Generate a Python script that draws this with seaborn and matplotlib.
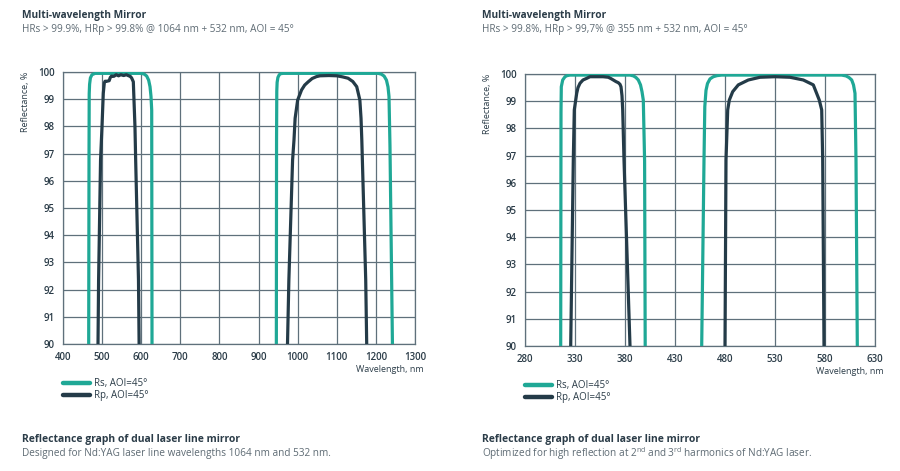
import numpy as np
import pandas as pd
import seaborn as sns
import matplotlib
matplotlib.use("Agg")
import matplotlib.pyplot as plt
from matplotlib.lines import Line2D

# ---------------- data ----------------
SERIES = ["Rs, AOI=45°", "Rp, AOI=45°"]

# Left chart: 1064 nm + 532 nm
L_RS_532_WL = [465.5, 465.7, 466.5, 467.0, 468.0, 470.0, 474.0, 482.0, 601.0, 608.0, 614.0, 619.0, 622.5, 625.0, 626.8, 627.6, 627.7]
L_RS_532_R = [89.5, 90.0, 96.8, 99.2, 99.55, 99.78, 99.9, 99.95, 99.95, 99.92, 99.85, 99.7, 99.46, 99.1, 98.6, 90.0, 89.5]
L_RP_532_WL = [489.2, 489.5, 491.0, 496.0, 499.7, 503.0, 505.6, 507.5, 512.0, 518.0, 521.0, 524.0, 530.0, 536.0, 542.0, 548.0, 555.0, 562.0, 568.0, 572.0, 575.5, 578.0, 579.8, 581.5, 584.0, 585.8, 593.0, 594.6, 594.9]
L_RP_532_R = [89.5, 90.0, 92.35, 96.76, 97.99, 99.22, 99.6, 99.66, 99.66, 99.68, 99.8, 99.85, 99.84, 99.9, 99.86, 99.9, 99.87, 99.9, 99.86, 99.84, 99.78, 99.7, 99.64, 98.97, 97.99, 96.76, 92.35, 90.0, 89.5]
L_RS_1064_WL = [945.3, 945.5, 946.0, 946.6, 947.5, 949.5, 953.0, 957.0, 963.0, 1206.0, 1214.0, 1221.0, 1227.0, 1231.0, 1233.5, 1236.0, 1242.3, 1242.5]
L_RS_1064_R = [89.5, 90.0, 97.5, 99.3, 99.62, 99.8, 99.9, 99.94, 99.95, 99.95, 99.92, 99.85, 99.7, 99.45, 99.1, 97.3, 90.0, 89.5]
L_RP_1064_WL = [972.8, 974.0, 977.5, 987.0, 990.6, 993.5, 1000.0, 1010.0, 1018.0, 1027.0, 1037.0, 1048.0, 1057.0, 1080.0, 1100.0, 1115.0, 1129.0, 1141.0, 1151.0, 1159.0, 1162.0, 1164.0, 1174.0, 1176.5, 1177.5]
L_RP_1064_R = [89.5, 90.0, 92.35, 96.76, 97.5, 98.3, 98.97, 99.34, 99.52, 99.64, 99.76, 99.83, 99.86, 99.87, 99.86, 99.82, 99.77, 99.65, 99.46, 98.97, 98.3, 97.5, 92.35, 90.0, 89.5]

# Right chart: 355 nm + 532 nm
R_RS_355_WL = [315.6, 315.7, 316.0, 316.3, 317.7, 320.0, 322.0, 325.0, 385.0, 388.5, 391.0, 393.3, 395.5, 397.0, 398.3, 399.6, 400.2, 400.3]
R_RS_355_R = [89.5, 90.0, 98.6, 99.53, 99.78, 99.9, 99.94, 99.96, 99.96, 99.93, 99.87, 99.78, 99.6, 99.35, 99.04, 96.8, 90.0, 89.5]
R_RP_355_WL = [325.5, 325.7, 328.3, 329.3, 331.7, 333.0, 335.0, 338.0, 341.7, 345.0, 352.0, 358.0, 363.3, 366.0, 368.3, 371.0, 373.3, 375.0, 376.0, 377.0, 377.7, 379.0, 385.0, 385.4]
R_RP_355_R = [89.5, 90.0, 96.84, 98.68, 99.29, 99.5, 99.66, 99.78, 99.84, 99.9, 99.9, 99.9, 99.88, 99.83, 99.78, 99.72, 99.68, 99.62, 99.53, 99.2, 98.68, 96.84, 90.0, 89.5]
R_RS_532_WL = [456.5, 456.7, 459.0, 459.8, 461.0, 462.5, 465.0, 468.3, 472.0, 476.7, 596.7, 601.0, 604.0, 606.7, 608.5, 610.0, 611.0, 612.3, 612.5]
R_RS_532_R = [89.5, 90.0, 96.84, 98.8, 99.4, 99.65, 99.82, 99.9, 99.94, 99.96, 99.96, 99.93, 99.87, 99.78, 99.6, 99.29, 96.84, 90.0, 89.5]
R_RP_532_WL = [479.8, 480.0, 481.0, 482.7, 484.3, 487.7, 493.3, 503.3, 515.0, 530.0, 545.0, 558.3, 568.3, 574.3, 576.7, 577.7, 579.0, 579.2]
R_RP_532_R = [89.5, 90.0, 96.84, 98.68, 99.04, 99.35, 99.6, 99.78, 99.88, 99.9, 99.88, 99.78, 99.6, 99.04, 98.68, 96.84, 90.0, 89.5]

L_XTICKS = [400, 500, 600, 700, 800, 900, 1000, 1100, 1200, 1300]
R_XTICKS = [280, 330, 380, 430, 480, 530, 580, 630]
YTICKS = [90, 91, 92, 93, 94, 95, 96, 97, 98, 99, 100]

TITLE = "Multi-wavelength Mirror"
L_SUB = "HRs > 99.9%, HRp > 99.8% @ 1064 nm + 532 nm, AOI = 45°"
R_SUB = "HRs > 99.8%, HRp > 99,7% @ 355 nm + 532 nm, AOI = 45°"
CAP = "Reflectance graph of dual laser line mirror"
L_CAP = "Designed for Nd:YAG laser line wavelengths 1064 nm and 532 nm."
R_CAP = r"Optimized for high reflection at 2$^{\mathregular{nd}}$ and 3$^{\mathregular{rd}}$ harmonics of Nd:YAG laser."


def frame(bands):
    parts = []
    for i, (series, wl, r) in enumerate(bands):
        parts.append(pd.DataFrame({"wl": wl, "R": r, "series": series, "band": i}))
    return pd.concat(parts, ignore_index=True)


left_df = frame([
    (SERIES[0], L_RS_532_WL, L_RS_532_R),
    (SERIES[0], L_RS_1064_WL, L_RS_1064_R),
    (SERIES[1], L_RP_532_WL, L_RP_532_R),
    (SERIES[1], L_RP_1064_WL, L_RP_1064_R),
])
right_df = frame([
    (SERIES[0], R_RS_355_WL, R_RS_355_R),
    (SERIES[0], R_RS_532_WL, R_RS_532_R),
    (SERIES[1], R_RP_355_WL, R_RP_355_R),
    (SERIES[1], R_RP_532_WL, R_RP_532_R),
])

# ---------------- style ----------------
sns.set_theme(style="white")
plt.rcParams["font.family"] = ["Open Sans", "DejaVu Sans"]
plt.rcParams["mathtext.default"] = "regular"

TEAL = "#1fa896"
DARK = "#243b48"
GRID = "#5f707b"
TXT = "#2b3c48"
SUBTXT = "#5e6b74"
PAL = {SERIES[0]: TEAL, SERIES[1]: DARK}

fig = plt.figure(figsize=(9, 4.71), dpi=100)
fig.patch.set_facecolor("white")
axL = fig.add_axes([63 / 900, 1 - 344 / 471, 352 / 900, 272 / 471])
axR = fig.add_axes([525 / 900, 1 - 346 / 471, 350 / 900, 272 / 471])


def style_axes(ax, df, xticks):
    sns.lineplot(data=df, x="wl", y="R", hue="series", units="band",
                 estimator=None, sort=False, palette=PAL, hue_order=SERIES,
                 linewidth=2.3, legend=False, ax=ax, zorder=3)
    for ln in ax.get_lines():
        ln.set_solid_joinstyle("round")
        ln.set_solid_capstyle("butt")
    ax.set_xlim(xticks[0], xticks[-1])
    ax.set_ylim(90, 100)
    ax.set_xticks(xticks)
    ax.set_yticks(YTICKS)
    ax.set_xticklabels([str(t) for t in xticks])
    ax.set_yticklabels([str(t) for t in YTICKS])
    ax.grid(True, color=GRID, linewidth=0.9, zorder=1)
    ax.set_axisbelow(True)
    for s in ax.spines.values():
        s.set_visible(True)
        s.set_color(GRID)
        s.set_linewidth(0.9)
    ax.tick_params(axis="both", which="major", direction="out", length=3,
                   width=0.9, color=GRID, labelsize=7, labelcolor=TXT, pad=3)
    for lab in ax.get_xticklabels() + ax.get_yticklabels():
        lab.set_fontweight("semibold")
    ax.set_xlabel("Wavelength, nm", fontsize=6.5, color=TXT, loc="right")
    ax.xaxis.set_label_coords(1.024, -0.078)
    ax.set_ylabel("Reflectance, %", fontsize=6.5, color=TXT, loc="top")
    ax.yaxis.set_label_coords(-0.093, 1.0)
    ax.set_facecolor("white")


style_axes(axL, left_df, L_XTICKS)
style_axes(axR, right_df, R_XTICKS)

handles = [Line2D([], [], color=TEAL, lw=3.2), Line2D([], [], color=DARK, lw=3.2)]
for ax in (axL, axR):
    ax.legend(handles, SERIES, loc="upper left", bbox_to_anchor=(0.0, -0.125),
              frameon=False, fontsize=7, handlelength=2.8, handletextpad=0.35,
              labelspacing=0.15, borderaxespad=0.0, borderpad=0.0,
              labelcolor=TXT)

# titles and captions
for x0, sub, cap in ((22 / 900, L_SUB, L_CAP), (482 / 900, R_SUB, R_CAP)):
    fig.text(x0, 1 - 15.5 / 471, TITLE, fontsize=7.3, fontweight="bold", color=TXT, va="center", ha="left")
    fig.text(x0, 1 - 29.5 / 471, sub, fontsize=7.2, color=SUBTXT, va="center", ha="left")
    fig.text(x0, 1 - 439.5 / 471, CAP, fontsize=7.5, fontweight="bold", color=TXT, va="center", ha="left")
    fig.text(x0, 1 - 453.5 / 471, cap, fontsize=7.2, color=SUBTXT, va="center", ha="left")

fig.savefig("out.png", dpi=100, facecolor="white")
